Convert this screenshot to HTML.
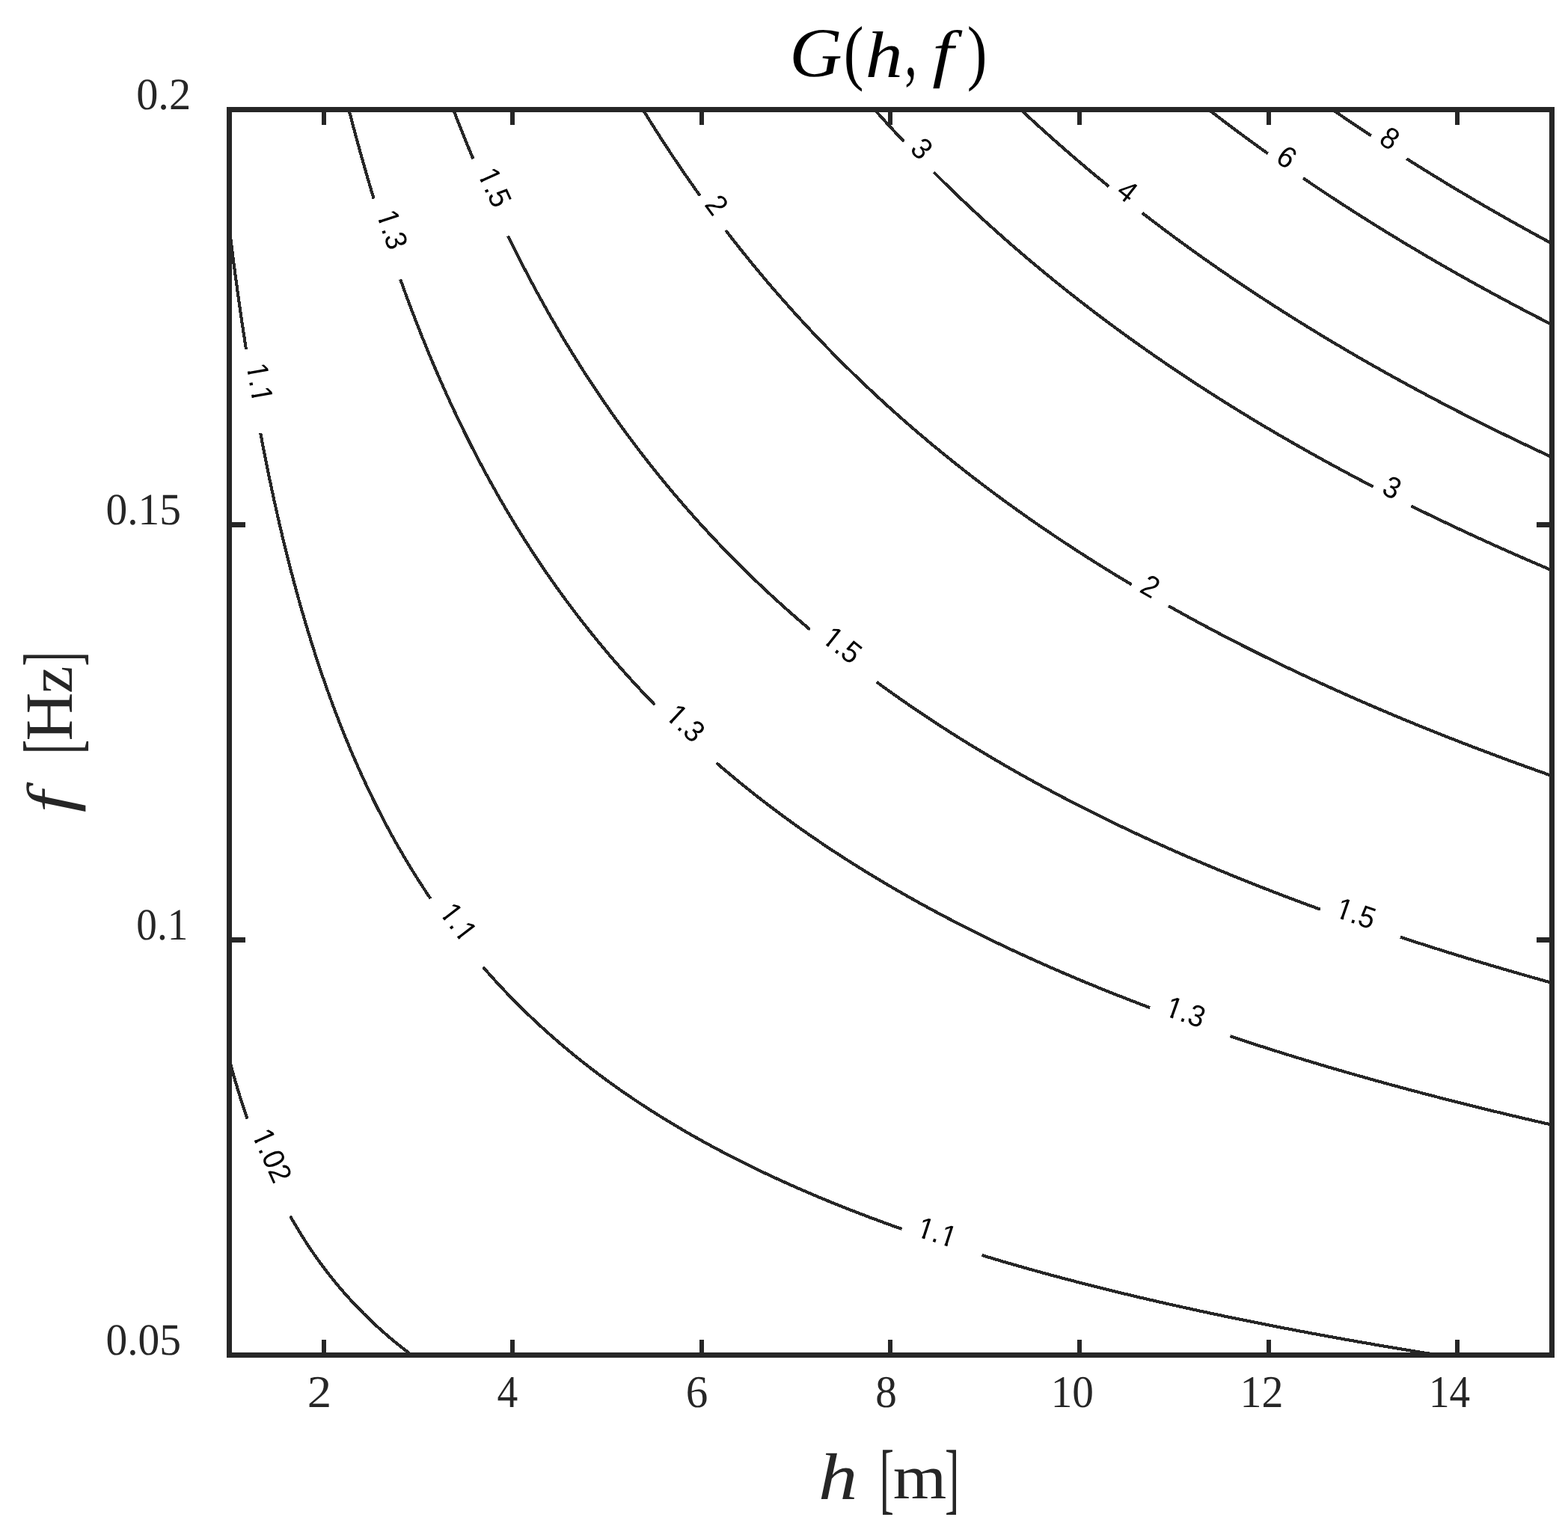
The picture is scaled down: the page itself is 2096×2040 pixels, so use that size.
<!DOCTYPE html>
<html lang="en"><head><meta charset="utf-8"><title>G(h, f)</title>
<style>html,body{margin:0;padding:0;background:#fff}body{width:2096px;height:2040px;overflow:hidden}svg text{white-space:pre}</style>
</head><body>
<svg width="2096" height="2040" viewBox="0 0 2096 2040" style="display:block;font-kerning:none" text-rendering="geometricPrecision">
<rect x="0" y="0" width="2096" height="2040" fill="#fff"/>
<g fill="none" stroke="#262626" stroke-width="4.10" stroke-linecap="butt" stroke-linejoin="round" shape-rendering="crispEdges">
<path d="M306.50 1416.35 L311.32 1433.97 L316.13 1450.64 L320.95 1466.44 L325.76 1481.46 L330.58 1495.75 M388.00 1625.77 L393.80 1635.89 L399.60 1645.61 L405.39 1654.95 L411.19 1663.94 L416.99 1672.59 L422.79 1680.94 L428.59 1688.99 L434.38 1696.76 L440.18 1704.27 L445.98 1711.53 L451.78 1718.56 L457.57 1725.37 L463.37 1731.97 L469.17 1738.37 L474.97 1744.57 L480.77 1750.60 L486.56 1756.46 L492.36 1762.15 L498.16 1767.69 L503.96 1773.07 L509.76 1778.32 L515.55 1783.42 L521.35 1788.40 L527.15 1793.25 L532.95 1797.98 L538.75 1802.60 L544.54 1807.10 L550.34 1811.50"/>
<path d="M306.50 304.97 L312.12 349.36 L317.74 391.01 L323.36 430.17 L328.98 467.10 M348.20 579.06 L354.18 610.06 L360.17 639.51 L366.15 667.52 L372.13 694.21 L378.11 719.69 L384.10 744.03 L390.08 767.32 L396.06 789.64 L402.05 811.05 L408.03 831.61 L414.01 851.38 L419.99 870.40 L425.98 888.72 L431.96 906.39 L437.94 923.43 L443.93 939.90 L449.91 955.81 L455.89 971.20 L461.88 986.10 L467.86 1000.53 L473.84 1014.52 L479.82 1028.09 L485.81 1041.25 L491.79 1054.04 L497.77 1066.46 L503.76 1078.54 L509.74 1090.28 L515.72 1101.71 L521.70 1112.84 L527.69 1123.68 L533.67 1134.25 L539.65 1144.54 L545.64 1154.59 L551.62 1164.39 L557.60 1173.96 L563.58 1183.30 L569.57 1192.42 L575.55 1201.34 M645.79 1292.83 L651.75 1299.63 L657.70 1306.30 L663.66 1312.85 L669.61 1319.28 L675.57 1325.60 L681.53 1331.80 L687.48 1337.89 L693.44 1343.88 L699.39 1349.76 L705.35 1355.54 L711.30 1361.23 L717.26 1366.82 L723.22 1372.32 L729.17 1377.72 L735.13 1383.04 L741.08 1388.28 L747.04 1393.43 L753.00 1398.50 L758.95 1403.50 L764.91 1408.42 L770.86 1413.26 L776.82 1418.03 L782.77 1422.73 L788.73 1427.36 L794.69 1431.92 L800.64 1436.42 L806.60 1440.85 L812.55 1445.22 L818.51 1449.53 L824.47 1453.77 L830.42 1457.96 L836.38 1462.10 L842.33 1466.17 L848.29 1470.20 L854.24 1474.17 L860.20 1478.08 L866.16 1481.95 L872.11 1485.76 L878.07 1489.53 L884.02 1493.25 L889.98 1496.92 L895.94 1500.54 L901.89 1504.12 L907.85 1507.66 L913.80 1511.16 L919.76 1514.61 L925.72 1518.02 L931.67 1521.39 L937.63 1524.71 L943.58 1528.00 L949.54 1531.26 L955.49 1534.47 L961.45 1537.65 L967.41 1540.79 L973.36 1543.90 L979.32 1546.97 L985.27 1550.00 L991.23 1553.01 L997.19 1555.98 L1003.14 1558.92 L1009.10 1561.82 L1015.05 1564.70 L1021.01 1567.54 L1026.96 1570.36 L1032.92 1573.14 L1038.88 1575.90 L1044.83 1578.63 L1050.79 1581.33 L1056.74 1584.00 L1062.70 1586.64 L1068.66 1589.26 L1074.61 1591.86 L1080.57 1594.42 L1086.52 1596.96 L1092.48 1599.48 L1098.43 1601.97 L1104.39 1604.44 L1110.35 1606.88 L1116.30 1609.30 L1122.26 1611.70 L1128.21 1614.07 L1134.17 1616.43 L1140.13 1618.76 L1146.08 1621.07 L1152.04 1623.35 L1157.99 1625.62 L1163.95 1627.87 L1169.90 1630.09 L1175.86 1632.30 L1181.82 1634.48 L1187.77 1636.65 L1193.73 1638.80 L1199.68 1640.93 L1205.64 1643.04 M1312.64 1678.07 L1318.62 1679.88 L1324.60 1681.67 L1330.58 1683.45 L1336.56 1685.22 L1342.54 1686.98 L1348.52 1688.72 L1354.50 1690.45 L1360.48 1692.16 L1366.46 1693.86 L1372.44 1695.55 L1378.42 1697.23 L1384.40 1698.89 L1390.38 1700.55 L1396.36 1702.18 L1402.34 1703.81 L1408.32 1705.43 L1414.30 1707.03 L1420.28 1708.62 L1426.26 1710.20 L1432.24 1711.77 L1438.22 1713.33 L1444.20 1714.88 L1450.18 1716.41 L1456.16 1717.94 L1462.15 1719.45 L1468.13 1720.96 L1474.11 1722.45 L1480.09 1723.93 L1486.07 1725.41 L1492.05 1726.87 L1498.03 1728.32 L1504.01 1729.77 L1509.99 1731.20 L1515.97 1732.62 L1521.95 1734.04 L1527.93 1735.44 L1533.91 1736.84 L1539.89 1738.22 L1545.87 1739.60 L1551.85 1740.97 L1557.83 1742.33 L1563.81 1743.68 L1569.79 1745.02 L1575.77 1746.35 L1581.75 1747.68 L1587.73 1748.99 L1593.71 1750.30 L1599.69 1751.60 L1605.67 1752.89 L1611.65 1754.18 L1617.63 1755.45 L1623.61 1756.72 L1629.59 1757.98 L1635.57 1759.23 L1641.55 1760.47 L1647.53 1761.71 L1653.51 1762.94 L1659.49 1764.16 L1665.47 1765.37 L1671.45 1766.58 L1677.43 1767.78 L1683.41 1768.97 L1689.39 1770.16 L1695.37 1771.33 L1701.35 1772.50 L1707.33 1773.67 L1713.31 1774.83 L1719.29 1775.98 L1725.27 1777.12 L1731.25 1778.26 L1737.23 1779.39 L1743.21 1780.51 L1749.19 1781.63 L1755.17 1782.74 L1761.16 1783.85 L1767.14 1784.95 L1773.12 1786.04 L1779.10 1787.13 L1785.08 1788.21 L1791.06 1789.28 L1797.04 1790.35 L1803.02 1791.41 L1809.00 1792.47 L1814.98 1793.52 L1820.96 1794.56 L1826.94 1795.60 L1832.92 1796.64 L1838.90 1797.67 L1844.88 1798.69 L1850.86 1799.71 L1856.84 1800.72 L1862.82 1801.72 L1868.80 1802.72 L1874.78 1803.72 L1880.76 1804.71 L1886.74 1805.70 L1892.72 1806.68 L1898.70 1807.65 L1904.68 1808.62 L1910.66 1809.59 L1916.64 1810.55 L1922.62 1811.50"/>
<path d="M466.31 146.50 L471.88 167.78 L477.44 188.46 L483.01 208.57 L488.57 228.13 L494.14 247.17 L499.70 265.71 M535.16 373.40 L541.13 389.95 L547.09 406.08 L553.06 421.83 L559.02 437.21 L564.99 452.22 L570.96 466.89 L576.92 481.23 L582.89 495.25 L588.86 508.96 L594.82 522.37 L600.79 535.50 L606.75 548.35 L612.72 560.93 L618.69 573.26 L624.65 585.34 L630.62 597.17 L636.58 608.78 L642.55 620.15 L648.52 631.31 L654.48 642.26 L660.45 653.01 L666.42 663.55 L672.38 673.91 L678.35 684.07 L684.31 694.06 L690.28 703.87 L696.25 713.51 L702.21 722.98 L708.18 732.29 L714.14 741.45 L720.11 750.45 L726.08 759.31 L732.04 768.02 L738.01 776.59 L743.97 785.03 L749.94 793.33 L755.91 801.50 L761.87 809.55 L767.84 817.47 L773.81 825.28 L779.77 832.97 L785.74 840.54 L791.70 848.00 L797.67 855.36 L803.64 862.60 L809.60 869.75 L815.57 876.79 L821.53 883.74 L827.50 890.59 L833.47 897.34 L839.43 904.01 L845.40 910.58 L851.37 917.06 L857.33 923.46 L863.30 929.78 L869.26 936.01 L875.23 942.17 M957.92 1020.02 L963.89 1025.16 L969.86 1030.24 L975.84 1035.26 L981.81 1040.23 L987.78 1045.14 L993.75 1050.00 L999.72 1054.81 L1005.70 1059.56 L1011.67 1064.26 L1017.64 1068.92 L1023.61 1073.52 L1029.58 1078.07 L1035.56 1082.58 L1041.53 1087.04 L1047.50 1091.45 L1053.47 1095.82 L1059.45 1100.14 L1065.42 1104.42 L1071.39 1108.65 L1077.36 1112.85 L1083.33 1117.00 L1089.31 1121.11 L1095.28 1125.18 L1101.25 1129.21 L1107.22 1133.20 L1113.19 1137.16 L1119.17 1141.07 L1125.14 1144.95 L1131.11 1148.79 L1137.08 1152.60 L1143.05 1156.37 L1149.03 1160.11 L1155.00 1163.81 L1160.97 1167.47 L1166.94 1171.11 L1172.91 1174.71 L1178.89 1178.28 L1184.86 1181.81 L1190.83 1185.32 L1196.80 1188.80 L1202.77 1192.24 L1208.75 1195.65 L1214.72 1199.04 L1220.69 1202.39 L1226.66 1205.72 L1232.63 1209.02 L1238.61 1212.29 L1244.58 1215.53 L1250.55 1218.75 L1256.52 1221.93 L1262.50 1225.10 L1268.47 1228.23 L1274.44 1231.34 L1280.41 1234.43 L1286.38 1237.49 L1292.36 1240.52 L1298.33 1243.54 L1304.30 1246.52 L1310.27 1249.49 L1316.24 1252.43 L1322.22 1255.34 L1328.19 1258.24 L1334.16 1261.11 L1340.13 1263.96 L1346.10 1266.78 L1352.08 1269.59 L1358.05 1272.37 L1364.02 1275.14 L1369.99 1277.88 L1375.96 1280.60 L1381.94 1283.30 L1387.91 1285.99 L1393.88 1288.65 L1399.85 1291.29 L1405.82 1293.91 L1411.80 1296.52 L1417.77 1299.10 L1423.74 1301.67 L1429.71 1304.21 L1435.68 1306.74 L1441.66 1309.26 L1447.63 1311.75 L1453.60 1314.23 L1459.57 1316.68 L1465.55 1319.13 L1471.52 1321.55 L1477.49 1323.96 L1483.46 1326.35 L1489.43 1328.73 L1495.41 1331.08 L1501.38 1333.43 L1507.35 1335.75 L1513.32 1338.07 L1519.29 1340.36 L1525.27 1342.64 L1531.24 1344.91 L1537.21 1347.16 M1644.32 1385.15 L1650.29 1387.15 L1656.27 1389.13 L1662.24 1391.10 L1668.22 1393.07 L1674.19 1395.01 L1680.17 1396.95 L1686.14 1398.88 L1692.12 1400.79 L1698.09 1402.69 L1704.07 1404.58 L1710.04 1406.46 L1716.02 1408.33 L1721.99 1410.19 L1727.97 1412.04 L1733.94 1413.88 L1739.92 1415.70 L1745.89 1417.52 L1751.87 1419.32 L1757.84 1421.12 L1763.81 1422.90 L1769.79 1424.68 L1775.76 1426.44 L1781.74 1428.20 L1787.71 1429.94 L1793.69 1431.68 L1799.66 1433.41 L1805.64 1435.12 L1811.61 1436.83 L1817.59 1438.53 L1823.56 1440.22 L1829.54 1441.89 L1835.51 1443.57 L1841.49 1445.23 L1847.46 1446.88 L1853.44 1448.52 L1859.41 1450.16 L1865.38 1451.78 L1871.36 1453.40 L1877.33 1455.01 L1883.31 1456.61 L1889.28 1458.20 L1895.26 1459.78 L1901.23 1461.36 L1907.21 1462.93 L1913.18 1464.49 L1919.16 1466.04 L1925.13 1467.58 L1931.11 1469.11 L1937.08 1470.64 L1943.06 1472.16 L1949.03 1473.67 L1955.01 1475.18 L1960.98 1476.67 L1966.95 1478.16 L1972.93 1479.64 L1978.90 1481.12 L1984.88 1482.58 L1990.85 1484.04 L1996.83 1485.50 L2002.80 1486.94 L2008.78 1488.38 L2014.75 1489.81 L2020.73 1491.24 L2026.70 1492.65 L2032.68 1494.06 L2038.65 1495.47 L2044.63 1496.86 L2050.60 1498.25 L2056.58 1499.64 L2062.55 1501.01 L2068.53 1502.38 L2074.50 1503.75"/>
<path d="M606.04 146.50 L611.31 160.11 L616.58 173.47 L621.85 186.60 L627.12 199.49 L632.39 212.15 M679.14 315.57 L685.07 327.66 L691.01 339.53 L696.94 351.20 L702.87 362.68 L708.81 373.95 L714.74 385.04 L720.68 395.95 L726.61 406.68 L732.54 417.24 L738.48 427.62 L744.41 437.85 L750.34 447.91 L756.28 457.82 L762.21 467.57 L768.15 477.18 L774.08 486.64 L780.01 495.96 L785.95 505.15 L791.88 514.20 L797.81 523.12 L803.75 531.91 L809.68 540.57 L815.61 549.12 L821.55 557.55 L827.48 565.86 L833.42 574.05 L839.35 582.14 L845.28 590.12 L851.22 597.99 L857.15 605.76 L863.08 613.43 L869.02 620.99 L874.95 628.46 L880.88 635.84 L886.82 643.12 L892.75 650.31 L898.69 657.41 L904.62 664.43 L910.55 671.35 L916.49 678.20 L922.42 684.96 L928.35 691.64 L934.29 698.24 L940.22 704.77 L946.16 711.22 L952.09 717.59 L958.02 723.90 L963.96 730.13 L969.89 736.28 L975.82 742.38 L981.76 748.40 L987.69 754.35 L993.62 760.25 L999.56 766.07 L1005.49 771.84 L1011.43 777.54 L1017.36 783.18 L1023.29 788.76 L1029.23 794.28 L1035.16 799.75 L1041.09 805.16 L1047.03 810.51 L1052.96 815.81 L1058.90 821.05 L1064.83 826.25 L1070.76 831.39 L1076.70 836.47 L1082.63 841.51 M1171.97 911.82 L1177.96 916.19 L1183.95 920.53 L1189.94 924.82 L1195.93 929.08 L1201.92 933.30 L1207.91 937.48 L1213.90 941.63 L1219.89 945.74 L1225.88 949.81 L1231.87 953.85 L1237.86 957.86 L1243.85 961.83 L1249.84 965.77 L1255.83 969.68 L1261.82 973.55 L1267.81 977.39 L1273.79 981.20 L1279.78 984.98 L1285.77 988.73 L1291.76 992.44 L1297.75 996.13 L1303.74 999.79 L1309.73 1003.42 L1315.72 1007.02 L1321.71 1010.59 L1327.70 1014.13 L1333.69 1017.65 L1339.68 1021.13 L1345.67 1024.60 L1351.66 1028.03 L1357.65 1031.44 L1363.64 1034.82 L1369.63 1038.18 L1375.62 1041.51 L1381.61 1044.82 L1387.60 1048.10 L1393.59 1051.36 L1399.58 1054.59 L1405.57 1057.80 L1411.56 1060.99 L1417.55 1064.16 L1423.54 1067.30 L1429.53 1070.41 L1435.52 1073.51 L1441.51 1076.58 L1447.50 1079.64 L1453.49 1082.67 L1459.48 1085.68 L1465.47 1088.66 L1471.45 1091.63 L1477.44 1094.58 L1483.43 1097.50 L1489.42 1100.41 L1495.41 1103.30 L1501.40 1106.16 L1507.39 1109.01 L1513.38 1111.84 L1519.37 1114.65 L1525.36 1117.44 L1531.35 1120.21 L1537.34 1122.96 L1543.33 1125.70 L1549.32 1128.41 L1555.31 1131.11 L1561.30 1133.80 L1567.29 1136.46 L1573.28 1139.11 L1579.27 1141.74 L1585.26 1144.35 L1591.25 1146.95 L1597.24 1149.53 L1603.23 1152.09 L1609.22 1154.64 L1615.21 1157.17 L1621.20 1159.69 L1627.19 1162.19 L1633.18 1164.67 L1639.17 1167.14 L1645.16 1169.60 L1651.15 1172.04 L1657.14 1174.46 L1663.13 1176.87 L1669.11 1179.27 L1675.10 1181.65 L1681.09 1184.01 L1687.08 1186.37 L1693.07 1188.70 L1699.06 1191.03 L1705.05 1193.34 L1711.04 1195.64 L1717.03 1197.92 L1723.02 1200.19 L1729.01 1202.45 L1735.00 1204.69 L1740.99 1206.92 L1746.98 1209.14 L1752.97 1211.35 L1758.96 1213.54 L1764.95 1215.72 M1872.05 1252.74 L1878.00 1254.70 L1883.96 1256.64 L1889.91 1258.58 L1895.87 1260.50 L1901.82 1262.42 L1907.78 1264.32 L1913.73 1266.21 L1919.69 1268.10 L1925.64 1269.97 L1931.59 1271.84 L1937.55 1273.70 L1943.50 1275.54 L1949.46 1277.38 L1955.41 1279.21 L1961.37 1281.03 L1967.32 1282.84 L1973.28 1284.64 L1979.23 1286.43 L1985.18 1288.21 L1991.14 1289.99 L1997.09 1291.75 L2003.05 1293.51 L2009.00 1295.26 L2014.96 1297.00 L2020.91 1298.73 L2026.86 1300.45 L2032.82 1302.17 L2038.77 1303.87 L2044.73 1305.57 L2050.68 1307.26 L2056.64 1308.94 L2062.59 1310.62 L2068.55 1312.28 L2074.50 1313.94"/>
<path d="M859.42 146.50 L865.29 156.03 L871.16 165.44 L877.03 174.73 L882.90 183.90 L888.77 192.96 L894.64 201.90 L900.51 210.74 L906.38 219.47 L912.24 228.09 L918.11 236.61 L923.98 245.03 L929.85 253.35 L935.72 261.58 M970.09 307.88 L976.05 315.61 L982.01 323.25 L987.97 330.80 L993.93 338.27 L999.90 345.66 L1005.86 352.97 L1011.82 360.20 L1017.78 367.35 L1023.74 374.43 L1029.70 381.43 L1035.66 388.36 L1041.62 395.21 L1047.59 402.00 L1053.55 408.71 L1059.51 415.36 L1065.47 421.94 L1071.43 428.46 L1077.39 434.91 L1083.35 441.29 L1089.31 447.61 L1095.28 453.87 L1101.24 460.07 L1107.20 466.21 L1113.16 472.30 L1119.12 478.32 L1125.08 484.28 L1131.04 490.19 L1137.00 496.05 L1142.97 501.85 L1148.93 507.59 L1154.89 513.29 L1160.85 518.93 L1166.81 524.52 L1172.77 530.06 L1178.73 535.55 L1184.69 540.99 L1190.65 546.38 L1196.62 551.73 L1202.58 557.03 L1208.54 562.28 L1214.50 567.49 L1220.46 572.65 L1226.42 577.77 L1232.38 582.84 L1238.34 587.87 L1244.31 592.86 L1250.27 597.81 L1256.23 602.71 L1262.19 607.58 L1268.15 612.40 L1274.11 617.19 L1280.07 621.94 L1286.03 626.65 L1292.00 631.32 L1297.96 635.95 L1303.92 640.55 L1309.88 645.11 L1315.84 649.63 L1321.80 654.12 L1327.76 658.57 L1333.72 662.99 L1339.68 667.38 L1345.65 671.73 L1351.61 676.05 L1357.57 680.33 L1363.53 684.58 L1369.49 688.80 L1375.45 692.99 L1381.41 697.15 L1387.37 701.28 L1393.34 705.37 L1399.30 709.44 L1405.26 713.48 L1411.22 717.48 L1417.18 721.46 L1423.14 725.41 L1429.10 729.33 L1435.06 733.23 L1441.03 737.09 L1446.99 740.93 L1452.95 744.74 L1458.91 748.53 L1464.87 752.28 L1470.83 756.02 L1476.79 759.72 L1482.75 763.40 L1488.72 767.06 L1494.68 770.69 L1500.64 774.30 L1506.60 777.88 L1512.56 781.44 M1561.84 809.96 L1567.80 813.31 L1573.76 816.63 L1579.72 819.94 L1585.68 823.22 L1591.65 826.48 L1597.61 829.73 L1603.57 832.95 L1609.53 836.15 L1615.49 839.33 L1621.45 842.49 L1627.41 845.63 L1633.37 848.76 L1639.34 851.86 L1645.30 854.95 L1651.26 858.01 L1657.22 861.06 L1663.18 864.09 L1669.14 867.10 L1675.10 870.09 L1681.06 873.06 L1687.02 876.02 L1692.99 878.96 L1698.95 881.88 L1704.91 884.79 L1710.87 887.68 L1716.83 890.55 L1722.79 893.40 L1728.75 896.24 L1734.71 899.06 L1740.67 901.87 L1746.64 904.66 L1752.60 907.43 L1758.56 910.19 L1764.52 912.93 L1770.48 915.66 L1776.44 918.37 L1782.40 921.07 L1788.36 923.75 L1794.33 926.41 L1800.29 929.07 L1806.25 931.70 L1812.21 934.33 L1818.17 936.94 L1824.13 939.53 L1830.09 942.11 L1836.05 944.68 L1842.01 947.23 L1847.98 949.77 L1853.94 952.29 L1859.90 954.80 L1865.86 957.30 L1871.82 959.79 L1877.78 962.26 L1883.74 964.72 L1889.70 967.17 L1895.67 969.60 L1901.63 972.02 L1907.59 974.43 L1913.55 976.82 L1919.51 979.21 L1925.47 981.58 L1931.43 983.94 L1937.39 986.28 L1943.35 988.62 L1949.32 990.94 L1955.28 993.25 L1961.24 995.55 L1967.20 997.84 L1973.16 1000.12 L1979.12 1002.39 L1985.08 1004.64 L1991.04 1006.88 L1997.00 1009.12 L2002.97 1011.34 L2008.93 1013.55 L2014.89 1015.75 L2020.85 1017.94 L2026.81 1020.12 L2032.77 1022.28 L2038.73 1024.44 L2044.69 1026.59 L2050.66 1028.73 L2056.62 1030.85 L2062.58 1032.97 L2068.54 1035.08 L2074.50 1037.17"/>
<path d="M1169.11 146.50 L1174.74 152.79 L1180.36 159.02 L1185.99 165.20 L1191.61 171.33 L1197.23 177.40 L1202.86 183.43 L1208.48 189.41 M1248.11 230.19 L1254.11 236.16 L1260.10 242.08 L1266.10 247.95 L1272.09 253.78 L1278.09 259.56 L1284.08 265.29 L1290.08 270.97 L1296.08 276.61 L1302.07 282.20 L1308.07 287.75 L1314.06 293.25 L1320.06 298.71 L1326.06 304.13 L1332.05 309.50 L1338.05 314.84 L1344.04 320.13 L1350.04 325.38 L1356.03 330.59 L1362.03 335.76 L1368.03 340.89 L1374.02 345.99 L1380.02 351.04 L1386.01 356.06 L1392.01 361.04 L1398.01 365.98 L1404.00 370.89 L1410.00 375.76 L1415.99 380.59 L1421.99 385.39 L1427.98 390.16 L1433.98 394.89 L1439.98 399.59 L1445.97 404.25 L1451.97 408.88 L1457.96 413.48 L1463.96 418.05 L1469.96 422.58 L1475.95 427.08 L1481.95 431.56 L1487.94 436.00 L1493.94 440.41 L1499.93 444.79 L1505.93 449.14 L1511.93 453.46 L1517.92 457.75 L1523.92 462.01 L1529.91 466.25 L1535.91 470.46 L1541.90 474.64 L1547.90 478.79 L1553.90 482.91 L1559.89 487.01 L1565.89 491.08 L1571.88 495.12 L1577.88 499.14 L1583.88 503.13 L1589.87 507.10 L1595.87 511.04 L1601.86 514.96 L1607.86 518.85 L1613.85 522.72 L1619.85 526.56 L1625.85 530.38 L1631.84 534.18 L1637.84 537.95 L1643.83 541.70 L1649.83 545.43 L1655.83 549.13 L1661.82 552.81 L1667.82 556.47 L1673.81 560.11 L1679.81 563.72 L1685.80 567.31 L1691.80 570.89 L1697.80 574.44 L1703.79 577.97 L1709.79 581.48 L1715.78 584.96 L1721.78 588.43 L1727.78 591.88 L1733.77 595.31 L1739.77 598.72 L1745.76 602.10 L1751.76 605.47 L1757.75 608.82 L1763.75 612.15 L1769.75 615.47 L1775.74 618.76 L1781.74 622.03 L1787.73 625.29 L1793.73 628.53 L1799.73 631.75 L1805.72 634.95 L1811.72 638.14 L1817.71 641.30 L1823.71 644.45 L1829.70 647.58 L1835.70 650.70 M1886.20 676.29 L1892.08 679.19 L1897.97 682.09 L1903.85 684.96 L1909.74 687.83 L1915.62 690.68 L1921.51 693.51 L1927.39 696.33 L1933.28 699.13 L1939.16 701.93 L1945.04 704.70 L1950.93 707.47 L1956.81 710.22 L1962.70 712.95 L1968.58 715.68 L1974.47 718.38 L1980.35 721.08 L1986.23 723.76 L1992.12 726.43 L1998.00 729.09 L2003.89 731.73 L2009.77 734.36 L2015.66 736.98 L2021.54 739.59 L2027.42 742.18 L2033.31 744.76 L2039.19 747.33 L2045.08 749.89 L2050.96 752.43 L2056.85 754.97 L2062.73 757.49 L2068.62 759.99 L2074.50 762.49"/>
<path d="M1364.47 146.50 L1370.37 152.00 L1376.26 157.47 L1382.15 162.89 L1388.05 168.27 L1393.94 173.61 L1399.83 178.92 L1405.73 184.19 L1411.62 189.41 L1417.51 194.60 L1423.41 199.76 L1429.30 204.88 L1435.19 209.96 L1441.09 215.00 L1446.98 220.01 L1452.87 224.99 L1458.77 229.93 L1464.66 234.84 L1470.55 239.71 L1476.45 244.55 L1482.34 249.36 M1526.86 284.65 L1532.81 289.24 L1538.77 293.79 L1544.72 298.32 L1550.67 302.81 L1556.62 307.28 L1562.58 311.72 L1568.53 316.13 L1574.48 320.51 L1580.43 324.87 L1586.39 329.19 L1592.34 333.49 L1598.29 337.76 L1604.24 342.01 L1610.20 346.22 L1616.15 350.42 L1622.10 354.58 L1628.05 358.72 L1634.01 362.84 L1639.96 366.93 L1645.91 370.99 L1651.86 375.03 L1657.82 379.05 L1663.77 383.04 L1669.72 387.00 L1675.68 390.95 L1681.63 394.87 L1687.58 398.76 L1693.53 402.64 L1699.49 406.49 L1705.44 410.32 L1711.39 414.12 L1717.34 417.91 L1723.30 421.67 L1729.25 425.41 L1735.20 429.13 L1741.15 432.83 L1747.11 436.50 L1753.06 440.16 L1759.01 443.79 L1764.96 447.41 L1770.92 451.00 L1776.87 454.58 L1782.82 458.13 L1788.77 461.66 L1794.73 465.18 L1800.68 468.67 L1806.63 472.15 L1812.59 475.61 L1818.54 479.05 L1824.49 482.47 L1830.44 485.87 L1836.40 489.25 L1842.35 492.61 L1848.30 495.96 L1854.25 499.29 L1860.21 502.60 L1866.16 505.89 L1872.11 509.17 L1878.06 512.43 L1884.02 515.67 L1889.97 518.89 L1895.92 522.10 L1901.87 525.29 L1907.83 528.47 L1913.78 531.63 L1919.73 534.77 L1925.68 537.90 L1931.64 541.01 L1937.59 544.10 L1943.54 547.18 L1949.50 550.24 L1955.45 553.29 L1961.40 556.32 L1967.35 559.34 L1973.31 562.34 L1979.26 565.33 L1985.21 568.30 L1991.16 571.26 L1997.12 574.20 L2003.07 577.13 L2009.02 580.04 L2014.97 582.94 L2020.93 585.83 L2026.88 588.70 L2032.83 591.56 L2038.78 594.41 L2044.74 597.24 L2050.69 600.06 L2056.64 602.86 L2062.59 605.65 L2068.55 608.43 L2074.50 611.19"/>
<path d="M1615.64 146.50 L1621.30 150.86 L1626.97 155.20 L1632.63 159.52 L1638.29 163.81 L1643.95 168.07 L1649.61 172.31 L1655.27 176.52 L1660.93 180.71 L1666.59 184.88 L1672.26 189.02 L1677.92 193.14 L1683.58 197.24 L1689.24 201.31 L1694.90 205.36 M1742.02 238.21 L1747.96 242.25 L1753.89 246.26 L1759.83 250.25 L1765.77 254.21 L1771.71 258.16 L1777.64 262.08 L1783.58 265.98 L1789.52 269.86 L1795.45 273.71 L1801.39 277.55 L1807.33 281.36 L1813.27 285.16 L1819.20 288.93 L1825.14 292.68 L1831.08 296.41 L1837.01 300.13 L1842.95 303.82 L1848.89 307.49 L1854.83 311.15 L1860.76 314.78 L1866.70 318.39 L1872.64 321.99 L1878.57 325.57 L1884.51 329.12 L1890.45 332.66 L1896.39 336.18 L1902.32 339.69 L1908.26 343.17 L1914.20 346.64 L1920.13 350.09 L1926.07 353.52 L1932.01 356.93 L1937.95 360.33 L1943.88 363.71 L1949.82 367.07 L1955.76 370.42 L1961.69 373.75 L1967.63 377.06 L1973.57 380.36 L1979.51 383.64 L1985.44 386.90 L1991.38 390.15 L1997.32 393.38 L2003.25 396.59 L2009.19 399.79 L2015.13 402.98 L2021.07 406.15 L2027.00 409.30 L2032.94 412.44 L2038.88 415.56 L2044.81 418.67 L2050.75 421.76 L2056.69 424.84 L2062.63 427.91 L2068.56 430.96 L2074.50 433.99"/>
<path d="M1781.19 146.50 L1786.91 150.46 L1792.64 154.40 L1798.37 158.32 L1804.10 162.21 L1809.82 166.09 L1815.55 169.95 L1821.28 173.78 L1827.00 177.60 L1832.73 181.40 M1880.30 212.18 L1886.18 215.90 L1892.07 219.60 L1897.95 223.28 L1903.84 226.94 L1909.72 230.59 L1915.61 234.21 L1921.49 237.82 L1927.38 241.41 L1933.26 244.98 L1939.15 248.53 L1945.03 252.06 L1950.92 255.58 L1956.80 259.08 L1962.69 262.56 L1968.57 266.02 L1974.46 269.47 L1980.34 272.90 L1986.23 276.32 L1992.11 279.71 L1998.00 283.09 L2003.88 286.46 L2009.77 289.81 L2015.65 293.14 L2021.54 296.45 L2027.42 299.75 L2033.31 303.04 L2039.19 306.31 L2045.08 309.56 L2050.96 312.80 L2056.85 316.02 L2062.73 319.23 L2068.62 322.42 L2074.50 325.60"/>
</g>
<defs><clipPath id="cl0"><rect x="-10" y="-60" width="140" height="55.76"/><rect x="9.76" y="-5.24" width="4.35" height="12"/><rect x="22.47" y="-5.24" width="11.22" height="12"/><rect x="33.69" y="-5.24" width="22.47" height="12"/><rect x="56.16" y="-5.24" width="22.47" height="12"/></clipPath><clipPath id="cl1"><rect x="-10" y="-60" width="140" height="55.76"/><rect x="9.76" y="-5.24" width="4.35" height="12"/><rect x="22.47" y="-5.24" width="11.22" height="12"/><rect x="43.45" y="-5.24" width="4.35" height="12"/></clipPath><clipPath id="cl2"><rect x="-10" y="-60" width="140" height="55.76"/><rect x="9.76" y="-5.24" width="4.35" height="12"/><rect x="22.47" y="-5.24" width="11.22" height="12"/><rect x="33.69" y="-5.24" width="22.47" height="12"/></clipPath><clipPath id="cl3"><rect x="-10" y="-60" width="140" height="55.76"/><rect x="9.76" y="-5.24" width="4.35" height="12"/><rect x="22.47" y="-5.24" width="11.22" height="12"/><rect x="33.69" y="-5.24" width="22.47" height="12"/></clipPath></defs>
<g font-family="'Liberation Sans', sans-serif" font-size="40.40" fill="#000">
<g transform="matrix(0.38493 0.85757 -0.91231 0.40950 335.936 1516.545)" clip-path="url(#cl0)"><text>1.02</text></g>
<g transform="matrix(0.15940 0.92639 -0.98552 0.16957 329.255 487.701)" clip-path="url(#cl1)"><text>1.1</text></g>
<g transform="matrix(0.57396 0.74443 -0.79195 0.61059 585.880 1220.172)" clip-path="url(#cl1)"><text>1.1</text></g>
<g transform="matrix(0.89348 0.29204 -0.31068 0.95052 1223.500 1652.269)" clip-path="url(#cl1)"><text>1.1</text></g>
<g transform="matrix(0.29443 0.89270 -0.94968 0.31323 502.974 285.942)" clip-path="url(#cl2)"><text>1.3</text></g>
<g transform="matrix(0.68505 0.64367 -0.68476 0.72877 887.820 958.464)" clip-path="url(#cl2)"><text>1.3</text></g>
<g transform="matrix(0.88600 0.31400 -0.33404 0.94256 1555.340 1356.996)" clip-path="url(#cl2)"><text>1.3</text></g>
<g transform="matrix(0.38770 0.85632 -0.91098 0.41244 637.816 231.974)" clip-path="url(#cl3)"><text>1.5</text></g>
<g transform="matrix(0.73908 0.58083 -0.61790 0.78626 1096.664 856.661)" clip-path="url(#cl3)"><text>1.5</text></g>
<g transform="matrix(0.88849 0.30691 -0.32650 0.94520 1783.003 1225.357)" clip-path="url(#cl3)"><text>1.5</text></g>
<g transform="matrix(0.56036 0.75472 -0.80289 0.59613 940.857 273.872)"><text>2</text></g>
<g transform="matrix(0.81358 0.47083 -0.50088 0.86551 1521.835 790.505)"><text>2</text></g>
<g transform="matrix(0.65520 0.67403 -0.71705 0.69702 1214.918 200.627)"><text>3</text></g>
<g transform="matrix(0.83854 0.42479 -0.45191 0.89207 1845.320 659.163)"><text>3</text></g>
<g transform="matrix(0.73669 0.58386 -0.62113 0.78371 1490.151 259.637)"><text>4</text></g>
<g transform="matrix(0.77114 0.53754 -0.57185 0.82036 1703.586 215.320)"><text>6</text></g>
<g transform="matrix(0.78917 0.51069 -0.54329 0.83955 1841.428 190.838)"><text>8</text></g>
</g>
<g fill="#262626">
<rect x="430" y="1791" width="6" height="19"/>
<rect x="430" y="148" width="6" height="19"/>
<rect x="682" y="1791" width="6" height="19"/>
<rect x="682" y="148" width="6" height="19"/>
<rect x="935" y="1791" width="6" height="19"/>
<rect x="935" y="148" width="6" height="19"/>
<rect x="1187" y="1791" width="6" height="19"/>
<rect x="1187" y="148" width="6" height="19"/>
<rect x="1440" y="1791" width="6" height="19"/>
<rect x="1440" y="148" width="6" height="19"/>
<rect x="1693" y="1791" width="6" height="19"/>
<rect x="1693" y="148" width="6" height="19"/>
<rect x="1945" y="1791" width="6" height="19"/>
<rect x="1945" y="148" width="6" height="19"/>
<rect x="308" y="698.0" width="20" height="7"/>
<rect x="2054" y="698.0" width="19" height="7"/>
<rect x="308" y="1253.0" width="20" height="7"/>
<rect x="2054" y="1253.0" width="19" height="7"/>
</g>
<rect x="306.5" y="146.5" width="1768.0" height="1665.0" fill="none" stroke="#262626" stroke-width="7"/>
<text transform="matrix(0.58354 0.00000 0.00000 0.59869 182.178 145.615)" font-family="'Liberation Serif', serif" font-size="100" fill="#262626">0.2</text>
<text transform="matrix(0.57447 0.00000 0.00000 0.59869 141.512 700.615)" font-family="'Liberation Serif', serif" font-size="100" fill="#262626">0.15</text>
<text transform="matrix(0.55215 0.00000 0.00000 0.59869 182.297 1255.615)" font-family="'Liberation Serif', serif" font-size="100" fill="#262626">0.1</text>
<text transform="matrix(0.57447 0.00000 0.00000 0.59869 141.512 1810.615)" font-family="'Liberation Serif', serif" font-size="100" fill="#262626">0.05</text>
<text transform="matrix(0.64857 0.00000 0.00000 0.60610 410.850 1881.208)" font-family="'Liberation Serif', serif" font-size="100" fill="#262626">2</text>
<text transform="matrix(0.55503 0.00000 0.00000 0.60610 664.616 1881.208)" font-family="'Liberation Serif', serif" font-size="100" fill="#262626">4</text>
<text transform="matrix(0.59216 0.00000 0.00000 0.60610 916.756 1881.208)" font-family="'Liberation Serif', serif" font-size="100" fill="#262626">6</text>
<text transform="matrix(0.57099 0.00000 0.00000 0.60610 1170.225 1881.208)" font-family="'Liberation Serif', serif" font-size="100" fill="#262626">8</text>
<text transform="matrix(0.57321 0.00000 0.00000 0.60610 1404.662 1881.208)" font-family="'Liberation Serif', serif" font-size="100" fill="#262626">10</text>
<text transform="matrix(0.57997 0.00000 0.00000 0.60610 1657.503 1881.208)" font-family="'Liberation Serif', serif" font-size="100" fill="#262626">12</text>
<text transform="matrix(0.55216 0.00000 0.00000 0.60610 1909.947 1881.208)" font-family="'Liberation Serif', serif" font-size="100" fill="#262626">14</text>
<g><text transform="matrix(0.97443 0.00000 0.00000 0.93755 1055.324 101.976)" font-family="'Liberation Serif', serif" font-style="italic" font-size="100" fill="#000">G</text><text transform="matrix(0.80596 0.00000 0.00000 0.96500 1127.758 102.256)" font-family="'Liberation Serif', serif" font-size="100" fill="#000">(</text><text transform="matrix(0.99914 0.00000 0.00000 0.88060 1156.790 102.600)" font-family="'Liberation Serif', serif" font-style="italic" font-size="100" fill="#000">h</text><text transform="matrix(0.66476 0.00000 0.00000 1.04736 1209.268 101.291)" font-family="'Liberation Serif', serif" font-size="100" fill="#000">,</text> <text transform="matrix(1.02335 0.00000 0.00000 0.85279 1246.313 100.045)" font-family="'Liberation Serif', serif" font-style="italic" font-size="100" fill="#000">f</text><text transform="matrix(0.80207 0.00000 0.00000 0.96500 1292.815 102.256)" font-family="'Liberation Serif', serif" font-size="100" fill="#000">)</text></g>
<g><text transform="matrix(1.04649 0.00000 0.00000 0.88204 1094.119 2004.100)" font-family="'Liberation Serif', serif" font-style="italic" font-size="100" fill="#262626">h</text> <text transform="matrix(0.57937 0.00000 0.00000 1.04877 1175.700 2010.869)" font-family="'Liberation Serif', serif" font-size="100" fill="#262626">[</text><text transform="matrix(0.92012 0.00000 0.00000 0.83830 1193.868 2003.000)" font-family="'Liberation Serif', serif" font-size="100" fill="#262626">m</text><text transform="matrix(0.57937 0.00000 0.00000 1.04877 1263.007 2010.869)" font-family="'Liberation Serif', serif" font-size="100" fill="#262626">]</text></g>
<g><text transform="matrix(0.00000 -1.03512 0.86260 0.00000 95.636 1086.125)" font-family="'Liberation Serif', serif" font-style="italic" font-size="100" fill="#262626">f</text> <text transform="matrix(0.00000 -0.57039 1.05119 0.00000 103.836 1007.933)" font-family="'Liberation Serif', serif" font-size="100" fill="#262626">[</text><text transform="matrix(0.00000 -0.89751 0.90411 0.00000 96.000 990.386)" font-family="'Liberation Serif', serif" font-size="100" fill="#262626">H</text><text transform="matrix(0.00000 -0.82228 0.82574 0.00000 96.000 927.108)" font-family="'Liberation Serif', serif" font-size="100" fill="#262626">z</text><text transform="matrix(0.00000 -0.57488 1.05119 0.00000 103.836 890.577)" font-family="'Liberation Serif', serif" font-size="100" fill="#262626">]</text></g>
</svg>
</body></html>
